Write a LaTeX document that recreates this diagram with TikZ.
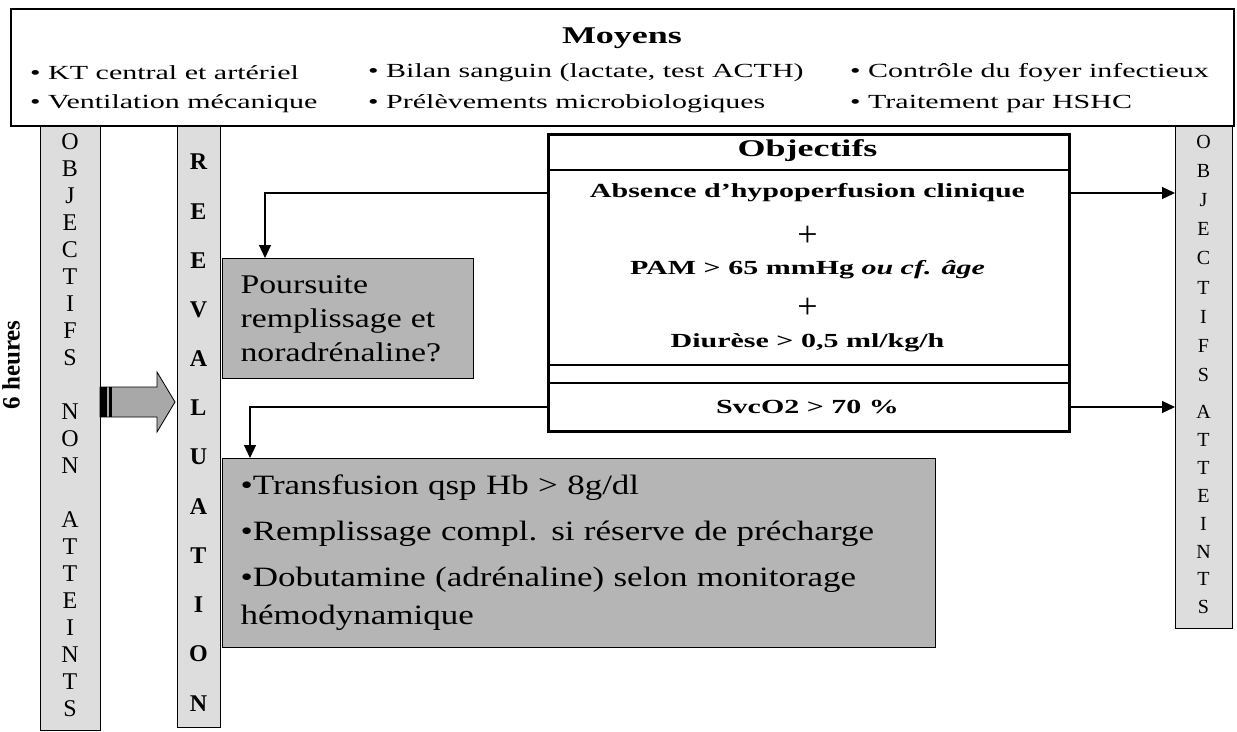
\documentclass[tikz,border=0pt]{standalone}
\usepackage{fontspec}
\setmainfont{Liberation Serif}
\newfontfamily\widesf[FakeStretch=1.25]{Liberation Serif}
\newfontfamily\widersf[FakeStretch=1.5]{Liberation Serif}
\usepackage{xcolor}
\usetikzlibrary{arrows.meta, positioning, calc}

\definecolor{colgray}{RGB}{221,221,221}
\definecolor{boxgray}{RGB}{181,181,181}
\definecolor{arrgray}{RGB}{168,168,168}

\begin{document}
\begin{tikzpicture}[x=1pt, y=-1pt,
  colbox/.style={draw, line width=1.2pt, fill=colgray, inner sep=0pt, anchor=north west},
  letter/.style={inner sep=0pt, font=\fontsize{24}{24}\selectfont},
  graybox/.style={draw, line width=1.2pt, fill=boxgray, align=left, inner xsep=18pt, inner ysep=0pt, anchor=north west},
  item/.style={inner sep=0pt, anchor=west, font=\widersf\fontsize{20}{20}\selectfont},
  goal/.style={inner sep=0pt, font=\widersf\bfseries\fontsize{20}{20}\selectfont},
  plus/.style={inner sep=0pt, font=\fontsize{36}{36}\selectfont},
  conn/.style={line width=1.2pt, -{Triangle[length=13pt, width=12pt]}},
]
  \useasboundingbox (0,0) rectangle (1237,731);

  % Columns
  \node[colbox, minimum width=60pt, minimum height=605pt] (left) at (40,125) {};
  \node[colbox, minimum width=43pt, minimum height=602pt] (reeval) at (177,125) {};
  \node[colbox, minimum width=57pt, minimum height=503pt] (right) at (1175,125) {};

  % Column letters
  \foreach \ch [count=\i from 0] in {O,B,J,E,C,T,I,F,S}
    \node[letter] (lobj\i) at (70,{142+27*\i}) {\ch};
  \foreach \ch [count=\i from 0] in {N,O,N}
    \node[letter] (lnon\i) at (70,{412+27*\i}) {\ch};
  \foreach \ch [count=\i from 0] in {A,T,T,E,I,N,T,S}
    \node[letter] (latt\i) at (70,{520+27*\i}) {\ch};
  \foreach \ch [count=\i from 0] in {R,E,E,V,A,L,U,A,T,I,O,N}
    \node[letter, font=\bfseries\fontsize{24}{24}\selectfont] (lre\i) at (198.5,{162+49.2*\i}) {\ch};
  \foreach \ch [count=\i from 0] in {O,B,J,E,C,T,I,F,S}
    \node[letter, font=\fontsize{20}{20}\selectfont] (robj\i) at (1203.5,{142+29.1*\i}) {\ch};
  \foreach \ch [count=\i from 0] in {A,T,T,E,I,N,T,S}
    \node[letter, font=\fontsize{20}{20}\selectfont] (ratt\i) at (1203.5,{412+27.9*\i}) {\ch};

  \node[rotate=90, inner sep=0pt, font=\bfseries\fontsize{25}{25}\selectfont] (sixh) at (11,365) {6 heures};

  % Moyens
  \node[draw, line width=1.5pt, fill=white, minimum width=1223pt, minimum height=117pt, anchor=north west] (moyens) at (10,8) {};
  \node[inner sep=0pt, font=\widersf\bfseries\fontsize{24}{24}\selectfont] (moytitle) at (622,38) {Moyens};
  \node[item] (m1) at (30,73) {• KT central et artériel};
  \node[item] (m2) at (30,104) {• Ventilation mécanique};
  \node[item] (m3) at (368,73) {• Bilan sanguin (lactate, test ACTH)};
  \node[item] (m4) at (368,104) {• Prélèvements microbiologiques};
  \node[item] (m5) at (850,73) {• Contrôle du foyer infectieux};
  \node[item] (m6) at (850,104) {• Traitement par HSHC};

  % Objectifs
  \node[draw, line width=3pt, minimum width=521pt, minimum height=297pt, anchor=north west] (obj) at (547,133) {};
  \node[goal, font=\widersf\bfseries\fontsize{24}{24}\selectfont] (objtitle) at (807.5,151) {Objectifs};
  \node[goal] (absence) at (807.5,193) {Absence d’hypoperfusion clinique};
  \node[plus] (plusa) at (807.5,236) {+};
  \node[goal] (pam) at (807.5,270) {PAM > 65 mmHg \textit{ou cf. âge}};
  \node[plus] (plusb) at (807.5,308) {+};
  \node[goal] (diurese) at (807.5,343) {Diurèse > 0,5 ml/kg/h};
  \node[goal] (svco2) at (807.5,407) {SvcO2 > 70 \%};
  \draw[line width=1.2pt] ($(obj.north west)+(0,37)$) -- ($(obj.north east)+(0,37)$);
  \draw[line width=1.2pt] ($(obj.north west)+(0,232)$) -- ($(obj.north east)+(0,232)$);
  \draw[line width=1.2pt] ($(obj.north west)+(0,250)$) -- ($(obj.north east)+(0,250)$);

  % Actions
  \node[graybox, text width=215pt, minimum height=120pt, font=\widesf\fontsize{27}{34}\selectfont] (poursuite) at (222,258)
    {Poursuite\\remplissage et\\noradrénaline?};
  \node[graybox, text width=677pt, minimum height=189pt, font=\widesf\fontsize{28}{38}\selectfont] (actions) at (222,458)
    {•Transfusion qsp Hb > 8g/dl\\[8pt]•Remplissage compl. si réserve de précharge\\[8pt]•Dobutamine (adrénaline) selon monitorage\\hémodynamique};

  % Connectors
  \draw[conn] (absence -| obj.west) -| ($(poursuite.north west)+(43,0)$);
  \draw[conn] (svco2 -| obj.west) -| ($(actions.north west)+(28,0)$);
  \draw[conn] (absence -| obj.east) -- (absence -| right.west);
  \draw[conn] (svco2 -| obj.east) -- (svco2 -| right.west);

  % Wide arrow
  \draw[fill=arrgray, line width=0.8pt] (100,387) -- (157,387) -- (157,372) -- (175,402)
    -- (157,432) -- (157,417) -- (100,417) -- cycle;
  \fill (100,387) rectangle (107,417);
  \fill (109,387) rectangle (112,417);
\end{tikzpicture}
\end{document}
